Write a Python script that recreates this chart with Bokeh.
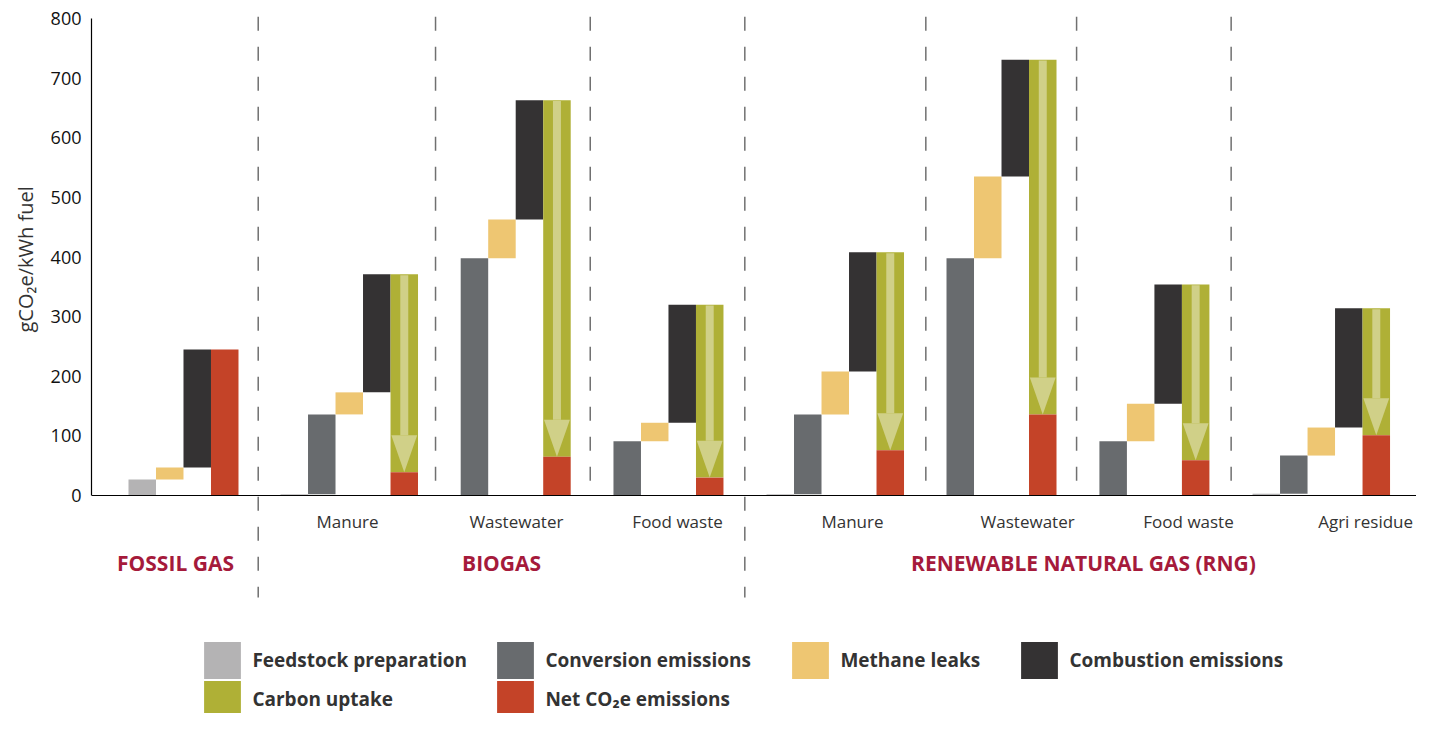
from bokeh.plotting import figure
from bokeh.models import Range1d, FixedTicker, Span, Title, Legend, LegendItem, ColumnDataSource
from bokeh.core.properties import value
from bokeh.embed import file_html
from bokeh.resources import INLINE

# ---------------- data (gCO2e per kWh fuel) ----------------
sections = ["FOSSIL GAS", "BIOGAS", "RENEWABLE NATURAL GAS (RNG)"]
group_labels = ["", "Manure", "Wastewater", "Food waste",
                "Manure", "Wastewater", "Food waste", "Agri residue"]
feedstock = [27, 2, 0, 0, 2, 0, 0, 3]
conversion = [None, 134, 398, 91, 134, 398, 91, 64]
methane = [20, 37, 65, 31, 72, 137, 63, 47]
combustion = [198, 198, 200, 198, 200, 196, 200, 200]
net = [245, 39, 65, 30, 76, 136, 59, 101]
y_ticks = [0, 100, 200, 300, 400, 500, 600, 700, 800]
legend_labels = ["Feedstock preparation", "Conversion emissions", "Methane leaks",
                 "Combustion emissions", "Carbon uptake", "Net CO\u2082e emissions"]

# ---------------- layout (x in bar-width units) ----------------
group_start = [1.345, 6.873, 12.425, 17.98, 24.545, 30.09, 35.65, 42.218]
label_center = [None, 9.31, 15.45, 21.31, 27.67, 34.04, 39.89, 46.33]
section_center = [3.055, 14.91, 36.07]
separators = [6.062, 12.51, 18.135, 23.756, 30.338, 35.82, 41.44]
long_separator = [True, False, False, True, False, False, False]

colors = {
    "feed": "#b4b3b4", "conv": "#686b6e", "meth": "#eec672",
    "comb": "#343233", "uptake": "#afb036", "net": "#c44328",
    "arrow": "#d0d088", "sep": "#707070", "section": "#a51a3b",
}

# ---------------- build bar geometry from data ----------------
comp = {k: dict(left=[], right=[], bottom=[], top=[]) for k in ["feed", "conv", "meth", "comb", "uptake", "net", "shaft"]}
head_xs, head_ys = [], []
HEAD_H = 62
for g in range(len(net)):
    x = group_start[g]
    base = 0
    steps = [("feed", feedstock[g]), ("conv", conversion[g]), ("meth", methane[g]), ("comb", combustion[g])]
    for key, v in steps:
        if v is None:
            continue
        if v > 0:
            d = comp[key]
            d["left"].append(x); d["right"].append(x + 1)
            d["bottom"].append(base); d["top"].append(base + v)
        base += v
        x += 1
    total = base
    d = comp["net"]
    d["left"].append(x); d["right"].append(x + 1); d["bottom"].append(0); d["top"].append(net[g])
    if total > net[g]:
        d = comp["uptake"]
        d["left"].append(x); d["right"].append(x + 1); d["bottom"].append(net[g]); d["top"].append(total)
        xc = x + 0.5
        d = comp["shaft"]
        d["left"].append(xc - 0.145); d["right"].append(xc + 0.145)
        d["bottom"].append(net[g] + HEAD_H); d["top"].append(total - 1.5)
        head_xs.append([xc - 0.47, xc + 0.47, xc])
        head_ys.append([net[g] + HEAD_H, net[g] + HEAD_H, net[g]])

# ---------------- figure ----------------
p = figure(width=1416, height=713, output_backend="svg", toolbar_location=None,
           x_range=Range1d(0, 48.18), y_range=Range1d(-365.6, 830.2),
           x_axis_location=None, y_axis_location="left",
           min_border_left=91, min_border_right=0, min_border_top=0, min_border_bottom=0)
p.outline_line_color = None
p.xgrid.visible = False
p.ygrid.visible = False
p.background_fill_color = "white"

ax = p.yaxis[0]
ax.ticker = FixedTicker(ticks=y_ticks)
ax.bounds = (0, 800)
ax.axis_line_color = "black"
ax.axis_line_width = 1.2
ax.major_tick_line_color = None
ax.minor_tick_line_color = None
ax.major_tick_out = 0
ax.major_label_standoff = 10
ax.major_label_text_font = "Open Sans"
ax.major_label_text_font_size = "18px"
ax.major_label_text_color = "#111111"

# y-axis title placed in the left panel
p.add_layout(Title(text="gCO\u2082e/kWh fuel", align="left", offset=381, standoff=18,
                   text_font="Open Sans", text_font_size="20px", text_font_style="normal",
                   text_color="#333333"), "left")

# separators
sx, sy0, sy1 = [], [], []
for s, lng in zip(separators, long_separator):
    sx.append(s); sy0.append(803); sy1.append(-171 if lng else 0)
p.segment(x0=sx, y0=sy0, x1=sx, y1=sy1, line_color=colors["sep"], line_width=1.5, line_dash="14 16")

renderers = {}
for key in ["feed", "conv", "meth", "comb", "uptake", "net"]:
    renderers[key] = p.quad(source=ColumnDataSource(comp[key]), left="left", right="right",
                            bottom="bottom", top="top", fill_color=colors[key], line_color=None)
p.quad(source=ColumnDataSource(comp["shaft"]), left="left", right="right", bottom="bottom", top="top",
       fill_color=colors["arrow"], line_color=None)
p.patches(xs=head_xs, ys=head_ys, fill_color=colors["arrow"], line_color=None)

p.add_layout(Span(location=0, dimension="width", line_color="black", line_width=1.2))

# category labels
cx = [c for c in label_center if c is not None]
ct = [t for t, c in zip(group_labels, label_center) if c is not None]
p.text(x=cx, y=[-43.6] * len(cx), text=ct, text_align="center", text_baseline="middle",
       text_font=value("Open Sans"), text_font_size="17px", text_color="#333333")
p.text(x=section_center, y=[-112.4] * len(sections), text=sections, text_align="center",
       text_baseline="middle", text_font=value("Open Sans"), text_font_style="bold",
       text_font_size="21px", text_color=colors["section"])

# legends (glyph area 46px -> drawn square ~37px)
leg_keys = ["feed", "conv", "meth", "comb", "uptake", "net"]
leg_pos = [(108.4, 29.6), (401.4, 29.6), (696.4, 29.6), (925.4, 29.6), (108.4, -9.4), (401.4, -9.4)]
for key, lab, loc in zip(leg_keys, legend_labels, leg_pos):
    lg = Legend(items=[LegendItem(label=value(lab), renderers=[renderers[key]])], location=loc,
                glyph_width=46, glyph_height=46, label_standoff=7, padding=0, margin=0,
                spacing=0, border_line_alpha=0, background_fill_alpha=0,
                label_text_font="Open Sans", label_text_font_style="bold",
                label_text_font_size="19px", label_text_color="#333333")
    p.add_layout(lg)

open("out.html", "w").write(file_html(p, INLINE))
